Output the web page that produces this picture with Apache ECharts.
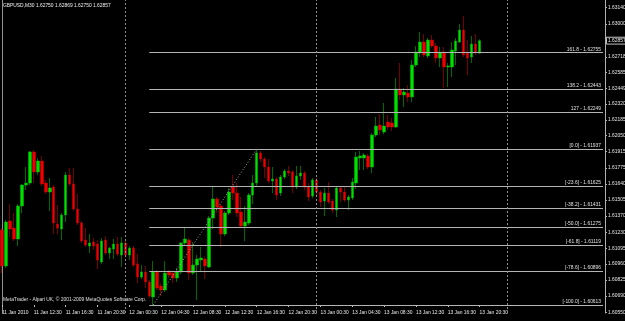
<!DOCTYPE html>
<html>
<head>
<meta charset="utf-8">
<title>GBPUSD M30</title>
<script src="https://cdn.jsdelivr.net/npm/echarts@6/dist/echarts.min.js"></script>
<style>
  html, body { margin: 0; padding: 0; background: #000; }
  #main { width: 625px; height: 321px; }
</style>
</head>
<body>
<div id="main"></div>
<script>
// GBPUSD M30, one candle per half hour from 11 Jan 2010 08:30 to 13 Jan 20:30
// rows are [open, close, low, high]
const ohlc = [
  [1.61249, 1.60944, 1.60884, 1.61266], [1.60944, 1.61317, 1.60927, 1.61334], [1.61326, 1.61258, 1.61190, 1.61470],
  [1.61266, 1.61173, 1.61156, 1.61394], [1.61173, 1.61453, 1.61113, 1.61470], [1.61453, 1.61631, 1.61394, 1.61640],
  [1.61631, 1.61648, 1.61589, 1.61784], [1.61648, 1.61912, 1.61631, 1.61920], [1.61912, 1.61742, 1.61648, 1.61929],
  [1.61742, 1.61835, 1.61716, 1.61861], [1.61835, 1.61640, 1.61623, 1.61878], [1.61648, 1.61572, 1.61555, 1.61674],
  [1.61572, 1.61606, 1.61411, 1.61691], [1.61614, 1.61309, 1.61215, 1.61631], [1.61300, 1.61266, 1.61215, 1.61462],
  [1.61258, 1.61377, 1.61164, 1.61394], [1.61377, 1.61716, 1.61317, 1.61742], [1.61716, 1.61640, 1.61623, 1.61776],
  [1.61640, 1.61428, 1.61411, 1.61776], [1.61428, 1.61309, 1.61292, 1.61555], [1.61309, 1.61156, 1.61139, 1.61326],
  [1.61164, 1.61122, 1.61105, 1.61266], [1.61113, 1.61139, 1.61054, 1.61215], [1.61147, 1.61113, 1.61079, 1.61181],
  [1.61130, 1.60995, 1.60918, 1.61164], [1.60978, 1.61156, 1.60961, 1.61181], [1.61164, 1.61054, 1.61037, 1.61198],
  [1.61054, 1.61096, 1.61003, 1.61105], [1.61088, 1.61130, 1.61003, 1.61173], [1.61130, 1.61046, 1.61029, 1.61190],
  [1.61037, 1.61139, 1.60935, 1.61190], [1.61139, 1.61037, 1.61012, 1.61164], [1.61037, 1.61096, 1.60995, 1.61113],
  [1.61096, 1.60952, 1.60935, 1.61113], [1.60961, 1.60850, 1.60799, 1.61046], [1.60850, 1.60893, 1.60833, 1.60952],
  [1.60893, 1.60808, 1.60757, 1.60944], [1.60808, 1.60689, 1.60672, 1.60825], [1.60681, 1.60893, 1.60613, 1.60986],
  [1.60893, 1.60757, 1.60740, 1.60910], [1.60774, 1.60740, 1.60689, 1.60799], [1.60740, 1.60884, 1.60723, 1.60986],
  [1.60893, 1.60867, 1.60842, 1.60910], [1.60884, 1.60842, 1.60799, 1.60901], [1.60842, 1.60893, 1.60808, 1.60927],
  [1.60893, 1.61139, 1.60876, 1.61147], [1.61139, 1.61173, 1.61122, 1.61266], [1.61164, 1.60884, 1.60825, 1.61181],
  [1.60884, 1.60952, 1.60867, 1.61147], [1.60952, 1.61003, 1.60655, 1.61037], [1.60995, 1.61012, 1.60893, 1.61105],
  [1.61003, 1.60944, 1.60833, 1.61029], [1.60935, 1.61351, 1.60927, 1.61368], [1.61351, 1.61513, 1.61258, 1.61623],
  [1.61513, 1.61445, 1.61394, 1.61529], [1.61453, 1.61215, 1.61105, 1.61470], [1.61215, 1.61394, 1.61198, 1.61411],
  [1.61394, 1.61572, 1.61377, 1.61606], [1.61614, 1.61563, 1.61504, 1.61716], [1.61563, 1.61394, 1.61360, 1.61648],
  [1.61402, 1.61283, 1.61266, 1.61529], [1.61283, 1.61317, 1.61156, 1.61453], [1.61309, 1.61546, 1.61292, 1.61563],
  [1.61546, 1.61648, 1.61470, 1.61716], [1.61648, 1.61903, 1.61614, 1.61937], [1.61903, 1.61852, 1.61827, 1.61920],
  [1.61852, 1.61784, 1.61691, 1.61869], [1.61784, 1.61665, 1.61648, 1.61852], [1.61665, 1.61682, 1.61563, 1.61784],
  [1.61682, 1.61546, 1.61504, 1.61699], [1.61563, 1.61699, 1.61538, 1.61716], [1.61699, 1.61750, 1.61682, 1.61767],
  [1.61750, 1.61733, 1.61708, 1.61793], [1.61742, 1.61614, 1.61563, 1.61759], [1.61614, 1.61708, 1.61597, 1.61793],
  [1.61708, 1.61733, 1.61674, 1.61793], [1.61733, 1.61614, 1.61589, 1.61750], [1.61614, 1.61529, 1.61496, 1.61648],
  [1.61538, 1.61674, 1.61521, 1.61691], [1.61674, 1.61572, 1.61546, 1.61691], [1.61572, 1.61487, 1.61445, 1.61589],
  [1.61496, 1.61563, 1.61368, 1.61606], [1.61563, 1.61487, 1.61470, 1.61657], [1.61496, 1.61419, 1.61394, 1.61513],
  [1.61419, 1.61606, 1.61360, 1.61623], [1.61606, 1.61572, 1.61487, 1.61623], [1.61572, 1.61504, 1.61487, 1.61614],
  [1.61504, 1.61529, 1.61419, 1.61546], [1.61521, 1.61657, 1.61504, 1.61691], [1.61648, 1.61869, 1.61597, 1.61912],
  [1.61861, 1.61878, 1.61759, 1.61920], [1.61861, 1.61886, 1.61759, 1.61903], [1.61878, 1.61784, 1.61767, 1.61895],
  [1.61784, 1.62056, 1.61733, 1.62073], [1.62056, 1.62132, 1.62039, 1.62209], [1.62141, 1.62098, 1.62056, 1.62234],
  [1.62081, 1.62132, 1.62064, 1.62328], [1.62166, 1.62124, 1.62098, 1.62226], [1.62158, 1.62124, 1.62090, 1.62200],
  [1.62124, 1.62446, 1.62115, 1.62540], [1.62446, 1.62396, 1.62353, 1.62667], [1.62396, 1.62421, 1.62294, 1.62455],
  [1.62412, 1.62379, 1.62336, 1.62480], [1.62379, 1.62650, 1.62336, 1.62693], [1.62650, 1.62760, 1.62633, 1.62811],
  [1.62752, 1.62845, 1.62718, 1.62930], [1.62845, 1.62735, 1.62718, 1.62913], [1.62727, 1.62862, 1.62710, 1.62879],
  [1.62862, 1.62811, 1.62794, 1.62905], [1.62811, 1.62710, 1.62667, 1.62837], [1.62710, 1.62760, 1.62633, 1.62803],
  [1.62760, 1.62633, 1.62455, 1.62803], [1.62633, 1.62642, 1.62463, 1.62667], [1.62633, 1.62777, 1.62548, 1.62845],
  [1.62769, 1.62854, 1.62650, 1.62879], [1.62845, 1.62947, 1.62837, 1.62998], [1.62947, 1.62735, 1.62718, 1.63066],
  [1.62760, 1.62710, 1.62565, 1.62862], [1.62718, 1.62828, 1.62667, 1.62896], [1.62828, 1.62752, 1.62735, 1.62913],
  [1.62750, 1.62857, 1.62750, 1.62869]
];

const xTickLabels = [
  '11 Jan 2010', '11 Jan 12:30', '11 Jan 16:30', '11 Jan 20:30',
  '12 Jan 00:30', '12 Jan 04:30', '12 Jan 08:30', '12 Jan 12:30', '12 Jan 16:30', '12 Jan 20:30',
  '13 Jan 00:30', '13 Jan 04:30', '13 Jan 08:30', '13 Jan 12:30', '13 Jan 16:30', '13 Jan 20:30'
];
const yTicks = [1.63140, 1.63000, 1.62718, 1.62585, 1.62449, 1.62320, 1.62185, 1.62050, 1.61915, 1.61775,
  1.61640, 1.61505, 1.61370, 1.61230, 1.61095, 1.60960, 1.60825, 1.60690, 1.60550];
const daySeparators = ['12 Jan 00:00', '13 Jan 00:00', '14 Jan 00:00'];

// fibonacci object: text tags as MT4 printed them, and their prices
const fibTags = ['161.8', '138.2', '127', '[0.0]', '[-23.6]', '[-38.2]', '[-50.0]', '[-61.8]', '[-78.6]', '[-100.0]'];
const fibPrices = [1.62755, 1.62443, 1.62249, 1.61937, 1.61625, 1.61431, 1.61275, 1.61119, 1.60896, 1.60613];
const fibStartBar = 37;
const trendFrom = [38, 1.60613];
const trendTo = [64, 1.61937];

const Y_MIN = 1.60545;
const Y_MAX = 1.63202;
const SLOTS = 152;   // bars plus the empty shift area on the right
const FONT = 'Liberation Sans';
const FS = 4.9;

// half hour slots as category names
function pad(n) { return (n < 10 ? '0' : '') + n; }
const times = [];
const t0 = Date.UTC(2010, 0, 11, 8, 30);
for (let i = 0; i < SLOTS; i++) {
  const d = new Date(t0 + i * 1800000);
  times.push(d.getUTCDate() + ' Jan ' + pad(d.getUTCHours()) + ':' + pad(d.getUTCMinutes()));
}

const last = ohlc[ohlc.length - 1];
const bid = last[1];
const titleText = 'GBPUSD,M30 ' + [last[0], last[3], last[2], last[1]].map(v => v.toFixed(5)).join(' ');

const markData = [];
fibPrices.forEach((p, i) => {
  markData.push([
    {
      coord: [times[fibStartBar], p],
      lineStyle: { color: '#b4b4b4', width: 1, type: 'solid' },
      label: {
        show: true, position: 'insideEndTop', distance: [2, 1],
        formatter: fibTags[i] + ' - ' + p.toFixed(5),
        color: '#e0e0e0', fontSize: FS, fontFamily: FONT
      }
    },
    { coord: [times[SLOTS - 1], p] }
  ]);
});
daySeparators.forEach(s => {
  markData.push({ xAxis: s, lineStyle: { color: '#909090', width: 1, type: [2, 2] }, label: { show: false } });
});
markData.push([
  { coord: [times[trendFrom[0]], trendFrom[1]], lineStyle: { color: '#a0a0a0', width: 1, type: [1, 2] }, label: { show: false } },
  { coord: [times[trendTo[0]], trendTo[1]] }
]);

const chart = echarts.init(document.getElementById('main'));
chart.setOption({
  backgroundColor: '#000',
  animation: false,
  textStyle: { fontFamily: FONT },
  title: {
    text: titleText, left: 3, top: 3, padding: 0,
    textStyle: { color: '#f0f0f0', fontSize: FS, fontWeight: 'normal', fontFamily: FONT }
  },
  graphic: [{
    type: 'text', left: 3, top: 297,
    style: { text: 'MetaTrader - Alpari UK, \u00a9 2001-2009 MetaQuotes Software Corp.', fill: '#e0e0e0', font: FS + 'px ' + FONT }
  }],
  grid: { left: 0, right: 20, top: 0, bottom: 8, outerBoundsMode: 'none' },
  xAxis: {
    type: 'category', data: times, boundaryGap: true, offset: -8,
    axisLine: { show: false },
    axisTick: { show: true, alignWithLabel: true, length: 2, interval: i => i % 8 === 0 && i / 8 < xTickLabels.length, lineStyle: { color: '#c0c0c0' } },
    axisLabel: {
      interval: i => i % 8 === 0 && i / 8 < xTickLabels.length,
      formatter: (v, i) => xTickLabels[i / 8] || '',
      align: 'left', color: '#e8e8e8', fontSize: FS, fontFamily: FONT, margin: 5
    },
    splitLine: { show: false }
  },
  yAxis: [
    {
      type: 'value', position: 'right', min: Y_MIN, max: Y_MAX,
      axisLine: { show: true, lineStyle: { color: '#b0b0b0' } },
      axisTick: { show: true, customValues: yTicks, length: 2, lineStyle: { color: '#b0b0b0' } },
      axisLabel: { customValues: yTicks, formatter: v => v.toFixed(5), color: '#e8e8e8', fontSize: FS, fontFamily: FONT, margin: 3 },
      splitLine: { show: false }
    },
    {
      type: 'value', position: 'left', offset: -2, min: Y_MIN, max: Y_MAX,
      axisLine: { show: true, lineStyle: { color: '#909090' } },
      axisTick: { show: false }, axisLabel: { show: false }, splitLine: { show: false }
    },
    {
      // boxed bid price on the price scale
      type: 'value', position: 'right', min: Y_MIN, max: Y_MAX,
      axisLine: { show: false },
      axisTick: { show: true, customValues: [bid], length: 2, lineStyle: { color: '#b0b0b0' } },
      axisLabel: {
        customValues: [bid], formatter: v => v.toFixed(5), margin: 2,
        color: '#f0f0f0', fontSize: FS, fontFamily: FONT,
        backgroundColor: '#000', borderColor: '#e0e0e0', borderWidth: 0.8, padding: [1, 1, 0, 1]
      },
      splitLine: { show: false }
    }
  ],
  series: [{
    type: 'candlestick',
    data: ohlc,
    barWidth: 3,
    itemStyle: { color: '#00e000', color0: '#f00000', borderColor: '#00b000', borderColor0: '#c00000', borderWidth: 0.6 },
    markLine: { silent: true, symbol: ['none', 'none'], animation: false, data: markData }
  }]
});
</script>
</body>
</html>
